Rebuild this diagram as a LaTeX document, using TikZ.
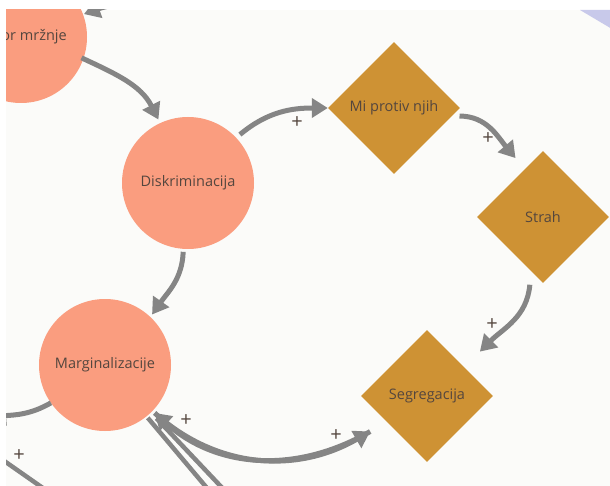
\documentclass[tikz,border=0pt]{standalone}
\usepackage{fontspec}
\setmainfont{Open Sans}
\usetikzlibrary{shapes.geometric,arrows.meta,calc}
\definecolor{bgc}{HTML}{FBFBF9}
\definecolor{circc}{HTML}{FA9D7F}
\definecolor{diac}{HTML}{CE9234}
\definecolor{linkc}{HTML}{858585}
\definecolor{txtc}{HTML}{54463E}
\definecolor{lav}{HTML}{C8C9EA}
\begin{document}
\begin{tikzpicture}[x=1pt,y=-1pt,
 circnode/.style={circle,fill=circc,minimum size=132pt,inner sep=0pt,text=txtc,font=\fontsize{14.5}{16}\selectfont},
 dianode/.style={diamond,fill=diac,minimum width=132pt,minimum height=132pt,inner sep=0pt,text=txtc,font=\fontsize{14.5}{16}\selectfont},
 link/.style={draw=linkc,line width=5pt,-{Triangle[length=16pt,width=19pt]}},
 plainlink/.style={draw=linkc,line width=4.5pt},
 sign/.style={text=txtc,font=\fontsize{20}{20}\selectfont,inner sep=0pt}]
\useasboundingbox (0,0) rectangle (610,486);
\fill[white] (0,0) rectangle (610,486);
\fill[bgc] (6,10) rectangle (610,486);
\begin{scope}
\clip (6,10) rectangle (610,486);
\fill[lav] (580,10) -- (612,10) -- (612,29) -- cycle;
% nodes
\node[circnode] (g) at (21,37) {Govor mržnje};
\node[circnode] (d) at (188,183) {Diskriminacija};
\node[circnode] (mg) at (105,365) {Marginalizacije};
\node[dianode] (m) at (394,108) {Mi protiv njih};
\node[dianode] (s) at (543,217) {Strah};
\node[dianode] (sg) at (427,396) {Segregacija};
% free ends
\coordinate (topin) at (140,2);
\coordinate (leftout) at (-10,417);
\coordinate (blA) at (-10,451);
\coordinate (blB) at (50,493);
\coordinate (brA) at (212,494);
\coordinate (brB) at (228,494);
% connectors
\draw[link] (topin) to[out=185,in=20] ($(g)+(20:67pt)$);
\draw[link] ($(g)+(-19:64pt)$) to[out=-25,in=117] ($(d)+(115:70pt)$);
\draw[link] ($(d)+(43:71pt)$) to[out=40,in=180] (m.west);
\draw[link] ($(m)+(-7:66pt)$) to[out=0,in=130] ($(s)+(115:65pt)$);
\draw[link] ($(s)+(-101:69pt)$) to[out=-95,in=45] ($(sg)+(40:69pt)$);
\draw[link] ($(d)+(-94:69pt)$) to[out=-92,in=55] ($(mg)+(47:69pt)$);
\draw[link] ($(mg)+(-44:69pt)$) to[out=-42,in=210] ($(sg)+(212:67pt)$);
\draw[link] ($(sg)+(212:67pt)$) to[out=210,in=-42] ($(mg)+(-44:69pt)$);
\draw[link] ($(mg)+(215:66pt)$) to[out=210,in=5] (leftout);
\draw[plainlink] (blA) -- (blB);
\draw[plainlink] ($(mg)+(-51:68pt)$) -- (brA);
\draw[plainlink] ($(mg)+(-46:74pt)$) -- (brB);
% polarity signs
\node[sign] (p1) at (297,123) {+};
\node[sign] (p2) at (488,139) {+};
\node[sign] (p3) at (492,325) {+};
\node[sign] (p4) at (336,436) {+};
\node[sign] (p5) at (186,421) {+};
\node[sign] (p6) at (19,456) {+};
\end{scope}
\end{tikzpicture}
\end{document}
